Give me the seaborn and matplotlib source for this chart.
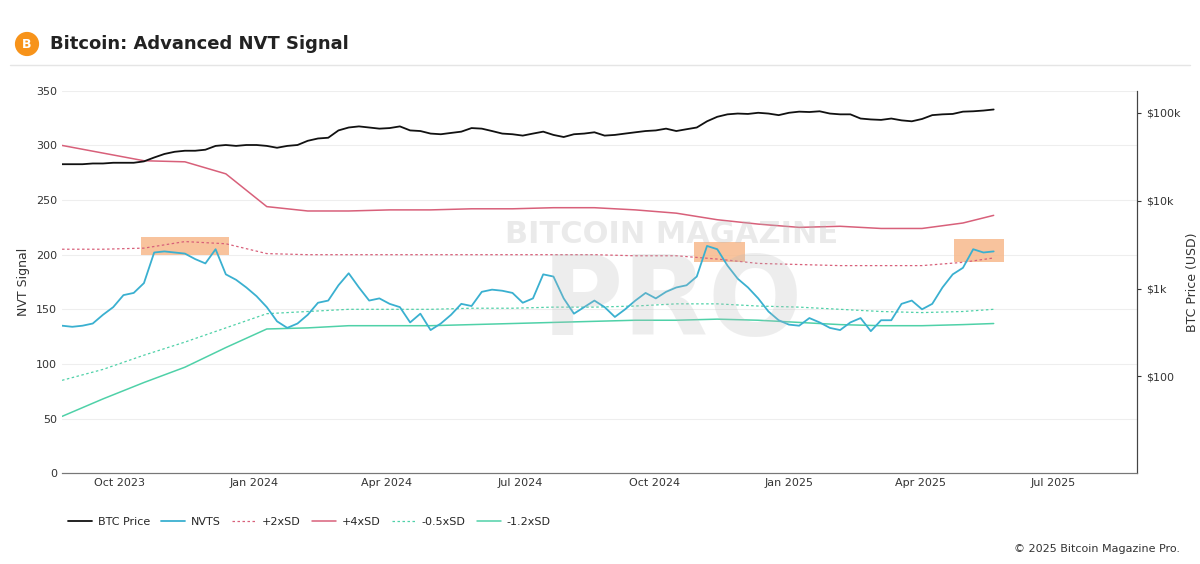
import numpy as np
import pandas as pd
from matplotlib import pyplot as plt
from matplotlib.patches import Rectangle, Ellipse
import matplotlib.dates as mdates
import seaborn as sns

# weekly series, starting 2023-08-23
start = "2023-08-23"
nvts = [135, 134, 135, 137, 145, 152, 163, 165, 174, 202, 203, 202, 201, 196, 192, 205,
        182, 177, 170, 162, 152, 139, 133, 137, 145, 156, 158, 172, 183, 170, 158, 160,
        155, 152, 138, 146, 131, 137, 145, 155, 153, 166, 168, 167, 165, 156, 160, 182,
        180, 160, 146, 152, 158, 152, 143, 150, 158, 165, 160, 166, 170, 172, 180, 208,
        205, 190, 178, 170, 160, 148, 140, 136, 135, 142, 138, 133, 131, 138, 142, 130,
        140, 140, 155, 158, 150, 155, 170, 182, 188, 205, 202, 203]
btc_k = [26, 26, 26, 26.5, 26.5, 27, 27, 27, 28, 31, 34, 36, 37, 37, 38, 42,
         43, 42, 43, 43, 42, 40, 42, 43, 48, 51, 52, 63, 68, 70, 68, 66,
         67, 70, 63, 62, 58, 57, 59, 61, 67, 66, 62, 58, 57, 55, 58, 61,
         56, 53, 57, 58, 60, 55, 56, 58, 60, 62, 63, 66, 62, 65, 68, 80,
         90, 96, 98, 97, 100, 98, 94, 100, 103, 102, 104, 98, 96, 96, 86, 84,
         83, 86, 82, 80, 85, 94, 96, 97, 103, 104, 106, 109]

# bands, every 4 weeks (last point is final week)
sd_p4 = [300, 293, 286, 285, 274, 244, 240, 240, 241, 241, 242, 242, 243, 243, 241, 238,
         232, 228, 225, 226, 224, 224, 229, 236]
sd_p2 = [205, 205, 206, 212, 210, 201, 200, 200, 200, 200, 200, 200, 200, 200, 199, 199,
         196, 192, 191, 190, 190, 190, 193, 197]
sd_m05 = [85, 95, 108, 120, 133, 146, 148, 150, 150, 150, 151, 151, 152, 152, 153, 155,
          155, 153, 152, 150, 148, 147, 148, 150]
sd_m12 = [52, 68, 83, 97, 115, 132, 133, 135, 135, 135, 136, 137, 138, 139, 140, 140,
          141, 140, 138, 136, 135, 135, 136, 137]

# highlighted zones: (start, end, low, high)
zones = [("2023-10-16", "2023-12-15", 200, 216),
         ("2024-10-28", "2024-12-02", 193, 212),
         ("2025-04-24", "2025-05-28", 193, 214)]

weekly = pd.date_range(start, periods=len(nvts), freq="7D")
band_dates = list(weekly[::4]) + [weekly[-1]]
df = pd.DataFrame({"date": weekly, "nvts": nvts, "btc": np.array(btc_k) * 1000})
bands = pd.DataFrame({"date": band_dates, "p4": sd_p4, "p2": sd_p2, "m05": sd_m05, "m12": sd_m12})

sns.set_style("white")
fig = plt.figure(figsize=(12, 5.64), dpi=100)
ax = fig.add_axes([0.0517, 0.161, 0.8958, 0.678])
ax2 = ax.twinx()

blue = "#3ab0d0"
red = "#d8607a"
green = "#4fd1a8"

for s, e, lo, hi in zones:
    x0 = mdates.date2num(pd.Timestamp(s))
    x1 = mdates.date2num(pd.Timestamp(e))
    ax.add_patch(Rectangle((x0, lo), x1 - x0, hi - lo, color="#f7b98c", alpha=0.85, lw=0, zorder=1))

sns.lineplot(data=bands, x="date", y="p4", ax=ax, color=red, lw=1.1, label="+4xSD")
sns.lineplot(data=bands, x="date", y="p2", ax=ax, color=red, lw=0.9, ls=(0, (2, 2)), label="+2xSD")
sns.lineplot(data=bands, x="date", y="m05", ax=ax, color=green, lw=0.9, ls=(0, (2, 2)), label="-0.5xSD")
sns.lineplot(data=bands, x="date", y="m12", ax=ax, color=green, lw=1.1, label="-1.2xSD")
sns.lineplot(data=df, x="date", y="nvts", ax=ax, color=blue, lw=1.3, label="NVTS", zorder=3)
sns.lineplot(data=df, x="date", y="btc", ax=ax2, color="#111111", lw=1.3, label="BTC Price")

ax.set_xlim(pd.Timestamp("2023-08-23"), pd.Timestamp("2025-08-27"))
ax.set_ylim(0, 350)
ax.set_yticks(range(0, 351, 50))
ax.yaxis.grid(True, color="#eeeeee", lw=0.8)
ax.set_ylabel("NVT Signal", fontsize=9, color="#333")
ax.set_xlabel("")
ax.xaxis.set_major_locator(mdates.MonthLocator(bymonth=[1, 4, 7, 10]))
ax.xaxis.set_major_formatter(mdates.DateFormatter("%b %Y"))
ax.tick_params(labelsize=8, colors="#333", length=0)

ax2.set_yscale("log")
ax2.set_ylim(10 ** 0.9, 10 ** 5.25)
ax2.set_yticks([100, 1000, 10000, 100000])
ax2.set_yticklabels(["$100", "$1k", "$10k", "$100k"])
ax2.minorticks_off()
ax2.set_ylabel("BTC Price (USD)", fontsize=9, color="#333")
ax2.tick_params(labelsize=8, colors="#333", length=3)

for a in (ax, ax2):
    for sp in ("top", "left"):
        a.spines[sp].set_visible(False)
    a.spines["bottom"].set_color("#777")
    a.spines["right"].set_color("#444")
    if a.get_legend():
        a.get_legend().remove()

# watermark
fig.text(0.56, 0.585, "BITCOIN MAGAZINE", fontsize=22, fontweight="bold", color="#bbbbbb",
         alpha=0.3, ha="center", va="center")
fig.text(0.56, 0.46, "PRO", fontsize=80, fontweight="bold", color="#bbbbbb",
         alpha=0.25, ha="center", va="center")

# legend
h1, l1 = ax2.get_legend_handles_labels()
h0, l0 = ax.get_legend_handles_labels()
order = ["BTC Price", "NVTS", "+2xSD", "+4xSD", "-0.5xSD", "-1.2xSD"]
hmap = dict(zip(l1 + l0, h1 + h0))
fig.legend([hmap[k] for k in order], order, loc="center left", bbox_to_anchor=(0.048, 0.074),
           ncol=6, frameon=False, fontsize=8, handlelength=2.2, columnspacing=1.0, handletextpad=0.5)

# header
fig.add_artist(Ellipse((0.0225, 0.922), 0.019, 0.019 * 12 / 5.64, transform=fig.transFigure, color="#f7931a"))
fig.text(0.0225, 0.921, "B", fontsize=9, color="white", ha="center", va="center", fontweight="bold")
fig.text(0.042, 0.922, "Bitcoin: Advanced NVT Signal", fontsize=13, fontweight="bold",
         color="#222", va="center")
fig.add_artist(plt.Line2D([0.008, 0.992], [0.885, 0.885], transform=fig.transFigure, color="#e5e5e5", lw=1))
fig.text(0.983, 0.026, "© 2025 Bitcoin Magazine Pro.", fontsize=8, color="#333", ha="right", va="center")

fig.savefig("out.png", dpi=100)
